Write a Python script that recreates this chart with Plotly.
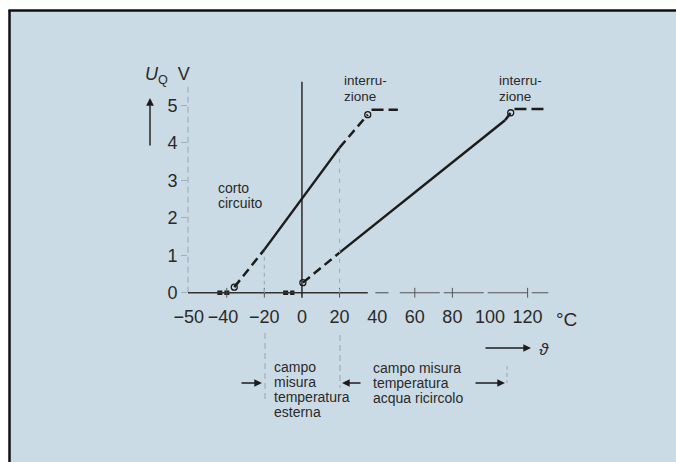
import plotly.graph_objects as go

# ---------------- data ----------------
# curve for outside temperature (campo misura temperatura esterna)
ext_T = [-45, -38, -36, -20, 20, 35, 37, 51]
ext_U = [0.0, 0.0, 0.15, 1.15, 3.87, 4.75, 4.88, 4.88]
# curve for recirculating water temperature (acqua ricircolo)
wat_T = [-10, -4, 0.5, 20, 108, 111, 113, 129]
wat_U = [0.0, 0.0, 0.27, 1.07, 4.60, 4.80, 4.90, 4.90]

x_tick_vals = [-60.2, -42, -20, 0, 20, 40, 60, 80, 100, 120]
x_tick_text = ["\u221250", "\u221240", "\u221220", "0", "20", "40", "60", "80", "100", "120"]
y_tick_vals = [0, 1, 2, 3, 4, 5]
axis_marks = [-40, -20, 20, 60, 80, 120]

# ---------------- layout geometry ----------------
# body margin is removed below, so the figure fills the whole window
OFF = 0
FW, FH = 676 - OFF, 462 - OFF
L, W, T, H = 188 - OFF, 365, 79 - OFF, 225
B = FH - T - H
R = FW - L - W


def xp(px):  # page pixel -> paper
    return (px - OFF - L) / W


def yp(py):
    return (T + H - (py - OFF)) / H


INK = "#1c1c1c"
TXT = "#2a2a2a"
FAINT = "#9fb0bc"
BG = "#cadbe6"
FONT = "Liberation Sans"

fig = go.Figure()


def seg(xs, ys, dash, width=2.5, color=INK):
    fig.add_trace(go.Scatter(x=xs, y=ys, mode="lines", hoverinfo="skip",
                             line=dict(color=color, width=width, dash=dash),
                             showlegend=False))


for Tv, Uv in ((ext_T, ext_U), (wat_T, wat_U)):
    seg(Tv[0:2], Uv[0:2], "5px,2px", width=4.5)          # small blocks at 0 V
    seg(Tv[2:4], Uv[2:4], "9px,5px")                     # dashed rise
    seg(Tv[3:5], Uv[3:5], "solid")                       # solid measuring range
    seg(Tv[4:6], Uv[4:6], "9px,5px")                     # dashed end
    seg(Tv[6:8], Uv[6:8], "12px,5px")                    # plateau (interruzione)
    fig.add_trace(go.Scatter(x=[Tv[2], Tv[5]], y=[Uv[2], Uv[5]], mode="markers",
                             hoverinfo="skip", showlegend=False,
                             marker=dict(symbol="circle-open", size=6,
                                         color=INK, line=dict(width=1.3))))

# little tick marks on the temperature axis
fig.add_trace(go.Scatter(x=axis_marks, y=[0] * len(axis_marks), mode="markers",
                         hoverinfo="skip", showlegend=False,
                         marker=dict(symbol="line-ns", size=7,
                                     line=dict(width=1, color="#555555"))))

shapes = []
# background panel with scan border (white margin left/top)
shapes.append(dict(type="rect", xref="paper", yref="paper",
                   x0=xp(9), x1=xp(FW + 40), y0=yp(FH + 40), y1=yp(10.5),
                   fillcolor=BG, line=dict(width=0), layer="below"))
shapes.append(dict(type="line", xref="paper", yref="paper",
                   x0=xp(9.5), x1=xp(9.5), y0=yp(FH + 40), y1=yp(10),
                   line=dict(color="#111111", width=2.5)))
shapes.append(dict(type="line", xref="paper", yref="paper",
                   x0=xp(8.5), x1=xp(FW + 40), y0=yp(10.5), y1=yp(10.5),
                   line=dict(color="#111111", width=2.5)))
# faint left voltage axis
shapes.append(dict(type="line", xref="paper", yref="y", x0=0, x1=0, y0=0, y1=5.6,
                   line=dict(color=FAINT, width=1.2, dash="6px,4px")))
# temperature axis (solid then broken)
shapes.append(dict(type="line", xref="x", yref="y", x0=-60.6, x1=35, y0=0, y1=0,
                   line=dict(color="#333333", width=1.3)))
shapes.append(dict(type="line", xref="x", yref="y", x0=39, x1=46, y0=0, y1=0,
                   line=dict(color="#555555", width=1.1)))
shapes.append(dict(type="line", xref="x", yref="y", x0=52, x1=131, y0=0, y1=0,
                   line=dict(color="#555555", width=1.1, dash="40px,4px")))
# vertical 0 °C line
shapes.append(dict(type="line", xref="x", yref="y", x0=0, x1=0, y0=-0.13, y1=5.63,
                   line=dict(color=INK, width=1.4)))
# faint range markers
shapes.append(dict(type="line", xref="x", yref="y", x0=-20, x1=-20, y0=0, y1=1.1,
                   line=dict(color=FAINT, width=1.2, dash="4px,4px")))
shapes.append(dict(type="line", xref="x", yref="y", x0=20, x1=20, y0=0, y1=3.8,
                   line=dict(color=FAINT, width=1.2, dash="4px,6px")))
shapes.append(dict(type="line", xref="paper", yref="paper",
                   x0=xp(265), x1=xp(265), y0=yp(333), y1=yp(403),
                   line=dict(color=FAINT, width=1.2, dash="6px,4px")))
shapes.append(dict(type="line", xref="paper", yref="paper",
                   x0=xp(340), x1=xp(340), y0=yp(335), y1=yp(388),
                   line=dict(color=FAINT, width=1.2, dash="6px,4px")))
shapes.append(dict(type="line", xref="paper", yref="paper",
                   x0=xp(507), x1=xp(507), y0=yp(366), y1=yp(383),
                   line=dict(color=FAINT, width=1.2, dash="4px,3px")))

annotations = []


def text(px, py, s, size=14, xanchor="left", align="left"):
    annotations.append(dict(xref="paper", yref="paper", x=xp(px), y=yp(py), text=s,
                            showarrow=False, xanchor=xanchor, yanchor="middle",
                            align=align,
                            font=dict(family=FONT, size=size, color=TXT)))


def lines(px, py0, rows, step=15, size=14):
    for i, r in enumerate(rows):
        text(px, py0 + i * step, r, size=size)


def arrow(hx, hy, tx, ty, width=1.4):
    annotations.append(dict(xref="paper", yref="paper", x=xp(hx), y=yp(hy),
                            ax=tx - hx, ay=ty - hy, text="", showarrow=True,
                            arrowhead=2, arrowsize=1.1, arrowwidth=width,
                            arrowcolor=INK))


text(143, 76, "<i>U</i><sub>Q</sub>  V", size=18)
arrow(150, 98, 150, 147)
lines(216, 188, ["corto", "circuito"])
lines(342, 81, ["interru-", "zione"], step=16, size=13.5)
lines(497, 81, ["interru-", "zione"], step=16, size=13.5)
text(554, 319, "°C", size=19)
arrow(531, 348, 484, 348)
text(537, 349, "<i>\u03d1</i>", size=17)
lines(272, 367, ["campo", "misura", "temperatura", "esterna"])
lines(371, 368, ["campo misura", "temperatura", "acqua ricircolo"])
arrow(262, 383, 240, 383)
arrow(342, 383, 362, 383)
arrow(505, 383, 474, 383)

fig.update_layout(
    width=FW, height=FH,
    margin=dict(l=L, r=R, t=T, b=B, pad=0),
    paper_bgcolor="white", plot_bgcolor="rgba(0,0,0,0)",
    showlegend=False,
    shapes=shapes, annotations=annotations,
    font=dict(family=FONT, color=TXT),
    xaxis=dict(range=[-60.6, 133.5], showgrid=False, zeroline=False, showline=False,
               tickvals=x_tick_vals, ticktext=x_tick_text, ticks="", tickangle=0,
               tickfont=dict(size=18, family=FONT, color=TXT), fixedrange=True),
    yaxis=dict(range=[-0.3, 5.7], showgrid=False, zeroline=False, showline=False,
               tickvals=y_tick_vals, ticks="outside", ticklen=6, tickcolor=FAINT,
               tickfont=dict(size=18, family=FONT, color=TXT), fixedrange=True),
)

fig.write_html(
    "out.html",
    config={"displayModeBar": False},
    post_script="document.body.style.margin='0';"
                "document.documentElement.style.overflow='hidden';"
                "document.body.style.overflow='hidden';",
)
